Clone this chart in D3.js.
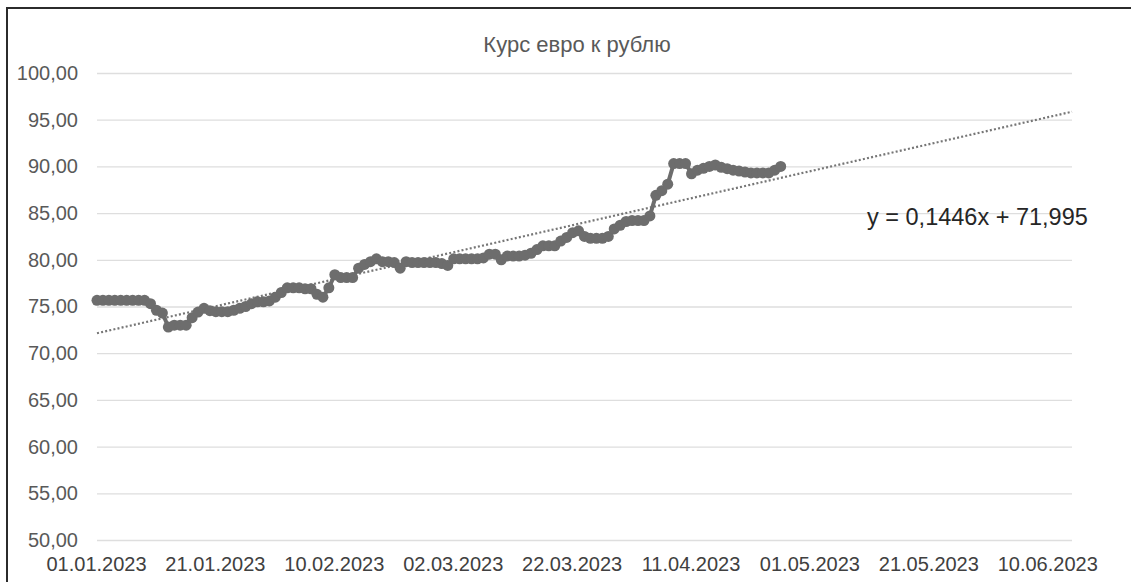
<!DOCTYPE html>
<html>
<head>
<meta charset="utf-8">
<script src="https://cdn.jsdelivr.net/npm/d3@7"></script>
<style>
  body { margin: 0; background: #fff; }
  text { font-family: "Liberation Sans", Arial, sans-serif; }
</style>
</head>
<body>
<svg id="chart"></svg>
<script>
// daily EUR/RUB rate, starting 01.01.2023 (one value per day)
let startDate = "01.01.2023"
let rates = [
    75.66, 75.66, 75.66, 75.66, 75.66, 75.66, 75.66, 75.66, 75.66, 75.30,
    74.60, 74.30, 72.80, 73.00, 73.00, 73.00, 73.80, 74.40, 74.80, 74.55,
    74.45, 74.45, 74.45, 74.60, 74.80, 75.00, 75.30, 75.50, 75.50, 75.60,
    76.00, 76.50, 77.00, 77.00, 77.00, 76.90, 76.90, 76.30, 76.00, 77.00,
    78.40, 78.10, 78.10, 78.10, 79.10, 79.50, 79.80, 80.10, 79.80, 79.80,
    79.70, 79.10, 79.80, 79.70, 79.70, 79.70, 79.70, 79.70, 79.60, 79.40,
    80.10, 80.10, 80.10, 80.10, 80.10, 80.20, 80.60, 80.60, 80.00, 80.40,
    80.40, 80.40, 80.50, 80.70, 81.10, 81.50, 81.50, 81.50, 82.00, 82.40,
    82.90, 83.10, 82.50, 82.30, 82.30, 82.30, 82.50, 83.30, 83.70, 84.10,
    84.20, 84.20, 84.20, 84.70, 86.90, 87.40, 88.10, 90.30, 90.30, 90.30,
    89.20, 89.60, 89.80, 90.00, 90.15, 89.90, 89.75, 89.60, 89.50, 89.40,
    89.30, 89.30, 89.30, 89.30, 89.60, 90.00
]

let xTickLabels = ["01.01.2023", "21.01.2023", "10.02.2023", "02.03.2023", "22.03.2023",
    "11.04.2023", "01.05.2023", "21.05.2023", "10.06.2023"]
let xEndLabel = "14.06.2023"
let yTicks = [50, 55, 60, 65, 70, 75, 80, 85, 90, 95, 100]

// linear trend from the sheet: y = slope * x + intercept, x = day number (1-based)
let trendCoef = [0.1446, 71.995]
let titleText = "Курс евро к рублю"
let trendText = "y = 0,1446x + 71,995"

let w = 1131, h = 582
let margin = { top: 73, right: 59, bottom: 42, left: 97 }

let parseDate = d3.utcParse("%d.%m.%Y")
let fmtDate = d3.utcFormat("%d.%m.%Y")
let fmtNum = d => d.toFixed(2).replace(".", ",")

let start = parseDate(startDate)
let data = rates.map((v, i) => ({ date: d3.utcDay.offset(start, i), value: v }))

let svg = d3.select("#chart")
    .attr("width", w)
    .attr("height", h)

let xScale = d3.scaleUtc()
    .domain([start, parseDate(xEndLabel)])
    .range([margin.left, w - margin.right])

let yScale = d3.scaleLinear()
    .domain([50, 100])
    .range([h - margin.bottom, margin.top])

// outer frame of the chart area (cut by the picture edge)
svg.append("rect")
    .attr("x", 7)
    .attr("y", 8)
    .attr("width", w + 20)
    .attr("height", h + 20)
    .attr("fill", "none")
    .attr("stroke", "#2b2b2b")
    .attr("stroke-width", 2)

// gridlines
let yAxis = d3.axisLeft(yScale)
    .tickValues(yTicks)
    .tickSize(-(w - margin.right - margin.left))
    .tickPadding(19)
    .tickFormat(fmtNum)

svg.append("g")
    .attr("class", "y axis")
    .attr("transform", "translate(" + margin.left + ",0)")
    .call(yAxis)
    .call(g => g.select(".domain").remove())
    .call(g => g.selectAll("line").attr("stroke", "#dedede").attr("stroke-width", 1.3))
    .call(g => g.selectAll("text")
        .attr("fill", "#595959")
        .style("font-size", "20px"))

let xAxis = d3.axisBottom(xScale)
    .tickValues(xTickLabels.map(parseDate))
    .tickSize(0)
    .tickPadding(17)
    .tickFormat(fmtDate)

svg.append("g")
    .attr("class", "x axis")
    .attr("transform", "translate(-1," + (h - margin.bottom) + ")")
    .call(xAxis)
    .call(g => g.select(".domain").remove())
    .call(g => g.selectAll("text")
        .attr("fill", "#404040")
        .style("font-size", "20px"))

// trend line over the whole axis
let trendDays = [0, d3.utcDay.count(start, parseDate(xEndLabel))]
let trend = trendDays.map(d => ({
    date: d3.utcDay.offset(start, d),
    value: trendCoef[0] * (d + 1) + trendCoef[1]
}))

let line = d3.line()
    .x(d => xScale(d.date))
    .y(d => yScale(d.value))

svg.append("path")
    .datum(trend)
    .attr("d", line)
    .attr("fill", "none")
    .attr("stroke", "#767676")
    .attr("stroke-width", 2.2)
    .attr("stroke-dasharray", "2,2.2")

// series
svg.append("path")
    .datum(data)
    .attr("d", line)
    .attr("fill", "none")
    .attr("stroke", "#6d6d6d")
    .attr("stroke-width", 4)

svg.selectAll("circle.pt")
    .data(data)
    .enter()
    .append("circle")
    .attr("class", "pt")
    .attr("cx", d => xScale(d.date))
    .attr("cy", d => yScale(d.value))
    .attr("r", 5.5)
    .attr("fill", "#6d6d6d")

svg.append("text")
    .attr("x", 577)
    .attr("y", 52)
    .attr("text-anchor", "middle")
    .attr("fill", "#595959")
    .style("font-size", "22px")
    .text(titleText)

svg.append("text")
    .attr("x", 867)
    .attr("y", 225)
    .attr("fill", "#262626")
    .style("font-size", "23.5px")
    .text(trendText)
</script>
</body>
</html>
